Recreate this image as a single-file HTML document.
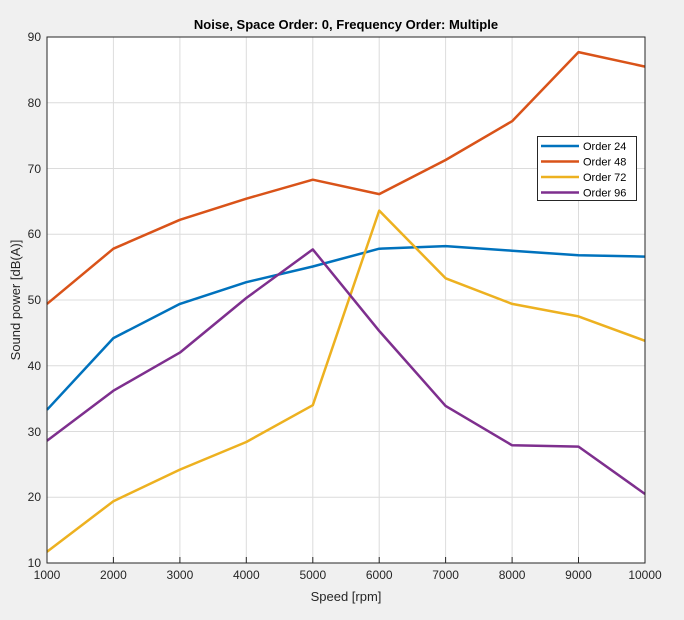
<!DOCTYPE html>
<html><head><meta charset="utf-8"><style>
body{margin:0;background:#f0f0f0;}
svg{display:block;font-family:"Liberation Sans",Arial,sans-serif;}
</style></head><body>
<svg width="684" height="620" viewBox="0 0 684 620">
<rect width="684" height="620" fill="#f0f0f0"/>
<rect x="47" y="37" width="598" height="526" fill="#fff"/>
<g stroke="#dcdcdc" stroke-width="1">
<line x1="113.4" y1="37" x2="113.4" y2="563"/><line x1="179.9" y1="37" x2="179.9" y2="563"/>
<line x1="246.3" y1="37" x2="246.3" y2="563"/><line x1="312.8" y1="37" x2="312.8" y2="563"/>
<line x1="379.2" y1="37" x2="379.2" y2="563"/><line x1="445.6" y1="37" x2="445.6" y2="563"/>
<line x1="512.1" y1="37" x2="512.1" y2="563"/><line x1="578.5" y1="37" x2="578.5" y2="563"/>
<line x1="47" y1="102.8" x2="645" y2="102.8"/><line x1="47" y1="168.5" x2="645" y2="168.5"/>
<line x1="47" y1="234.3" x2="645" y2="234.3"/><line x1="47" y1="300" x2="645" y2="300"/>
<line x1="47" y1="365.8" x2="645" y2="365.8"/><line x1="47" y1="431.5" x2="645" y2="431.5"/>
<line x1="47" y1="497.3" x2="645" y2="497.3"/>
</g>
<g fill="none" stroke-width="2.5" stroke-linejoin="round">
<polyline stroke="#0072bd" points="47,409.8 113.4,338.1 179.9,303.9 246.3,282.2 312.8,266.5 379.2,248.7 445.6,246.1 512.1,250.7 578.5,255.3 645,256.6"/>
<polyline stroke="#d95319" points="47,303.9 113.4,248.7 179.9,219.8 246.3,198.7 312.8,179.7 379.2,194.1 445.6,160 512.1,121.2 578.5,52.1 645,66.6"/>
<polyline stroke="#edb120" points="47,551.8 113.4,501.2 179.9,469.6 246.3,442 312.8,405.2 379.2,210.6 445.6,278.3 512.1,303.9 578.5,316.4 645,340.8"/>
<polyline stroke="#7e2f8e" points="47,440.7 113.4,390.7 179.9,352.6 246.3,298 312.8,249.4 379.2,330.9 445.6,405.9 512.1,445.3 578.5,446.6 645,494"/>
</g>
<rect x="47" y="37" width="598" height="526" fill="none" stroke="#262626" stroke-width="1"/>
<g stroke="#262626">
<line x1="113.4" y1="563" x2="113.4" y2="557"/><line x1="179.9" y1="563" x2="179.9" y2="557"/><line x1="246.3" y1="563" x2="246.3" y2="557"/><line x1="312.8" y1="563" x2="312.8" y2="557"/><line x1="379.2" y1="563" x2="379.2" y2="557"/><line x1="445.6" y1="563" x2="445.6" y2="557"/><line x1="512.1" y1="563" x2="512.1" y2="557"/><line x1="578.5" y1="563" x2="578.5" y2="557"/>
</g>
<g font-size="12" fill="#262626" text-anchor="middle">
<text x="47" y="579">1000</text><text x="113.4" y="579">2000</text><text x="179.9" y="579">3000</text><text x="246.3" y="579">4000</text><text x="312.8" y="579">5000</text><text x="379.2" y="579">6000</text><text x="445.6" y="579">7000</text><text x="512.1" y="579">8000</text><text x="578.5" y="579">9000</text><text x="645" y="579">10000</text>
</g>
<g font-size="12" fill="#262626" text-anchor="end">
<text x="41" y="41">90</text><text x="41" y="107">80</text><text x="41" y="173">70</text><text x="41" y="238">60</text><text x="41" y="304">50</text><text x="41" y="370">40</text><text x="41" y="436">30</text><text x="41" y="501">20</text><text x="41" y="567">10</text>
</g>
<text x="346" y="601" font-size="13" fill="#262626" text-anchor="middle">Speed [rpm]</text>
<text transform="translate(20,300) rotate(-90)" font-size="13" fill="#262626" text-anchor="middle">Sound power [dB(A)]</text>
<text x="346" y="29" font-size="13" font-weight="bold" fill="#000" text-anchor="middle">Noise, Space Order: 0, Frequency Order: Multiple</text>
<rect x="537.5" y="136.5" width="99" height="64" fill="#fff" stroke="#262626"/>
<g stroke-width="2.5">
<line x1="541" y1="146" x2="579" y2="146" stroke="#0072bd"/>
<line x1="541" y1="161.5" x2="579" y2="161.5" stroke="#d95319"/>
<line x1="541" y1="177" x2="579" y2="177" stroke="#edb120"/>
<line x1="541" y1="192.5" x2="579" y2="192.5" stroke="#7e2f8e"/>
</g>
<g font-size="11" fill="#000">
<text x="583" y="150">Order 24</text><text x="583" y="165.5">Order 48</text><text x="583" y="181">Order 72</text><text x="583" y="196.5">Order 96</text>
</g>
</svg>
</body></html>
